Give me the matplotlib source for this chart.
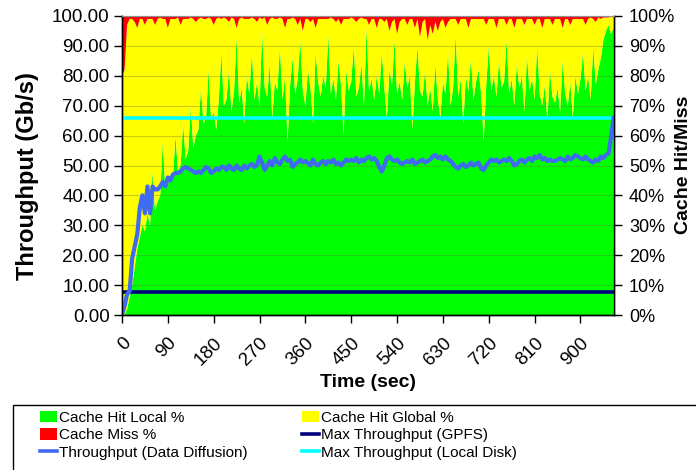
import numpy as np
import matplotlib
matplotlib.use('Agg')
import matplotlib.pyplot as plt
from matplotlib.patches import Patch, Rectangle
from matplotlib.lines import Line2D
from matplotlib.ticker import FuncFormatter, MultipleLocator

plt.rcParams['font.family'] = ['Liberation Sans', 'DejaVu Sans']

# ---- data (sampled every 5 seconds) ----
time_step = 5
local_pct = [
    0, 0, 2, 6, 10, 16, 22, 26, 30, 28,
    34, 30, 48, 35, 38, 40, 58, 42, 44, 46,
    46, 60, 48, 50, 64, 52, 55, 70, 56, 60,
    62, 76, 64, 66, 82, 65, 68, 62, 72, 88,
    70, 72, 82, 68, 75, 93, 71, 76, 64, 80,
    74, 88, 72, 78, 70, 95, 76, 73, 84, 66,
    78, 75, 90, 72, 80, 58, 77, 86, 74, 79,
    92, 75, 70, 82, 76, 64, 88, 78, 73, 80,
    76, 94, 74, 79, 72, 85, 77, 60, 82, 75,
    78, 90, 73, 76, 84, 70, 96, 75, 79, 72,
    80, 74, 88, 76, 66, 82, 77, 92, 74, 78,
    72, 85, 76, 80, 62, 78, 90, 75, 73, 82,
    70, 76, 68, 84, 72, 66, 78, 74, 88, 70,
    76, 94, 73, 79, 64, 80, 75, 86, 72, 78,
    82, 74, 58, 77, 90, 75, 80, 73, 85, 76,
    78, 92, 74, 79, 70, 84, 76, 80, 68, 87,
    75, 79, 72, 90, 74, 70, 77, 65, 82, 73,
    71, 76, 68, 85, 74, 70, 78, 66, 80, 74,
    79, 88, 75, 80, 72, 90, 77, 82, 86, 92,
    95, 97, 94, 96,
]
miss_pct = [
    20, 18, 3, 1, 1, 2, 4, 1, 1, 3,
    1, 1, 1, 3, 1, 0.5, 1, 1, 4, 1,
    1, 1, 0.5, 3, 1, 1, 1, 0.5, 1, 2,
    1, 0.5, 1, 1, 0.5, 1, 3, 1, 0.5, 1,
    0.5, 1, 2, 0.5, 1, 4, 1, 0.5, 1, 1,
    1, 0.5, 1, 2, 0.5, 1, 0.5, 3, 1, 0.5,
    1, 1, 0.5, 1, 4, 1, 1, 0.5, 1, 3,
    1, 5, 1, 1, 2, 1, 4, 1, 1, 1,
    1, 1, 0.5, 1, 2, 1, 3, 1, 1, 1,
    0.5, 1, 2, 1, 0.5, 1, 1, 3, 1, 1,
    4, 1, 1, 2, 1, 5, 2, 1, 6, 2,
    1, 1, 3, 1, 1, 4, 1, 7, 2, 1,
    8, 3, 6, 2, 5, 2, 1, 4, 2, 1,
    1, 1, 3, 1, 1, 1, 4, 1, 1, 1,
    1, 1, 1, 3, 1, 1, 1, 4, 1, 1,
    1, 3, 1, 1, 4, 1, 1, 1, 3, 1,
    1, 1, 3, 1, 1, 4, 1, 1, 1, 3,
    1, 1, 1, 4, 1, 1, 3, 1, 1, 1,
    1, 1, 3, 1, 0.5, 1, 2, 0.5, 1, 0.5,
    0.5, 0.5, 0, 0,
]
throughput = [
    0, 3, 7, 8, 19, 23, 27, 36, 40, 34,
    43, 34, 43, 42, 42, 43, 44.5, 43, 46, 45,
    47, 47.5, 47.5, 48, 49, 49.5, 49, 48.5, 48, 47.5,
    48, 47.5, 48.5, 49.5, 49, 47.5, 48, 49, 48.5, 49.5,
    49.5, 48.5, 50, 49, 48.5, 50, 49, 48.5, 50, 49,
    50, 50.5, 49.5, 50.2, 53, 51, 48.5, 50, 51.5, 50,
    52.5, 51, 50.5, 52, 53, 51.5, 52, 49.5, 50.5, 51,
    52, 51, 51.5, 50.8, 50, 52, 50.5, 50, 51, 51.5,
    50.5, 51.5, 51, 52, 50.5, 51, 50, 51, 52, 51.5,
    52, 51.5, 52.5, 51, 52, 51.5, 52.5, 53, 52, 52.5,
    51.5, 49.5, 48, 50, 52.5, 53, 52, 51.5, 52, 51,
    50.5, 51, 51.5, 51, 52, 50.5, 51, 51.5, 52, 51,
    51.5, 52, 53, 53.5, 52.5, 53, 52, 53, 52, 51.5,
    50.5, 49.5, 49, 50, 50.5, 49.5, 50, 51, 50, 50.5,
    51, 49, 48.5, 50, 51, 52, 51.5, 52, 51, 51.5,
    52, 51.5, 52.5, 51.5, 50, 50.5, 51.5, 52, 51, 52,
    52.5, 51.5, 53, 52.5, 53.5, 52, 52.5, 51.5, 52, 51.5,
    51.5, 52, 52.5, 52, 51.5, 53, 52, 52.5, 53.5, 53,
    52.5, 52, 53, 52, 51.5, 51, 52, 51.5, 53, 52.5,
    53.5, 54, 59.5, 66,
]
max_gpfs = 7.7
max_local_disk = 66.0
x_ticks = [0, 90, 180, 270, 360, 450, 540, 630, 720, 810, 900]

t = np.arange(len(local_pct)) * time_step
local = np.array(local_pct, dtype=float)
miss = np.array(miss_pct, dtype=float)
glob = 100.0 - local - miss

W, H = 696, 470
fig = plt.figure(figsize=(W / 100, H / 100), dpi=100)
ax = fig.add_axes([122 / W, 1 - 315 / H, (613.6 - 122) / W, (315 - 16) / H])

c_local, c_global, c_miss = '#00FF00', '#FFFF00', '#FF0000'
c_thr, c_gpfs, c_disk = '#3F6BF0', '#000080', '#00FFFF'

ax.stackplot(t, local, glob, miss, colors=[c_local, c_global, c_miss],
             linewidth=0, zorder=1)
ax.axhline(max_gpfs, color=c_gpfs, lw=2.6, zorder=4)
ax.axhline(max_local_disk, color=c_disk, lw=2.6, zorder=4)
ax.plot(t, throughput, color=c_thr, lw=3.0, zorder=5, solid_joinstyle='round')

ax.set_xlim(0, t[-1])
ax.set_ylim(0, 100)
ax.set_xticks(x_ticks)
ax.set_xticklabels([str(v) for v in x_ticks], rotation=45, ha='right',
                   rotation_mode='anchor', fontsize=13.5)
ax.yaxis.set_major_locator(MultipleLocator(10))
ax.yaxis.set_major_formatter(FuncFormatter(lambda v, p: f'{v:.2f}'))
ax.tick_params(axis='both', direction='out', length=6, width=1, labelsize=13.5)
ax.tick_params(axis='x', pad=8)
ax.tick_params(axis='y', pad=3)
ax.yaxis.grid(True, color='#6E6E40', alpha=0.35, lw=0.8)
ax.set_axisbelow(False)

ax.set_xlabel('Time (sec)', fontsize=14, fontweight='bold', labelpad=4)
fig.text(28 / W, 1 - 176 / H, 'Throughput (Gb/s)', rotation=90, ha='center',
         va='center', fontsize=17, fontweight='bold')

ax2 = ax.twinx()
ax2.set_ylim(0, 100)
ax2.yaxis.set_major_locator(MultipleLocator(10))
ax2.yaxis.set_major_formatter(FuncFormatter(lambda v, p: f'{v:.0f}%'))
ax2.tick_params(axis='y', direction='out', length=6, width=1, labelsize=13,
                pad=5)
fig.text(684 / W, 1 - 165 / H, 'Cache Hit/Miss', rotation=90, ha='center',
         va='center', fontsize=14, fontweight='bold')

for a in (ax, ax2):
    a.spines['top'].set_color('#909090')
    for s in ('left', 'right', 'bottom'):
        a.spines[s].set_color('black')
        a.spines[s].set_linewidth(1)

# legend box
fig.patches.append(Rectangle((13 / W, -0.05), 1.0, 1 - 405 / H + 0.05,
                             transform=fig.transFigure, fill=False,
                             edgecolor='black', lw=1))

h1 = [Patch(facecolor=c_local, edgecolor='none', label='Cache Hit Local %'),
      Patch(facecolor=c_miss, edgecolor='none', label='Cache Miss %'),
      Line2D([], [], color=c_thr, lw=2.6, label='Throughput (Data Diffusion)')]
h2 = [Patch(facecolor=c_global, edgecolor='none', label='Cache Hit Global %'),
      Line2D([], [], color=c_gpfs, lw=2.6, label='Max Throughput (GPFS)'),
      Line2D([], [], color=c_disk, lw=2.6, label='Max Throughput (Local Disk)')]
common = dict(frameon=False, fontsize=11, handlelength=1.1, handleheight=0.75,
              handletextpad=0.15, labelspacing=0.22, borderpad=0, borderaxespad=0,
              loc='upper left')
fig.legend(handles=h1, bbox_to_anchor=(40 / W, 1 - 411 / H), **common)
fig.legend(handles=h2, bbox_to_anchor=(302 / W, 1 - 411 / H), **common)

fig.savefig('out.png', dpi=100)
